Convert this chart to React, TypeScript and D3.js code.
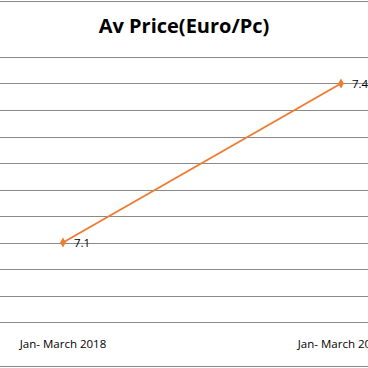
import React from "react";
import * as d3 from "d3";

const categories = ["Jan- March 2018", "Jan- March 2019"];
const values = [7.1, 7.4];
const labels = ["7.1", "7.4"];
const yTicks = [6.95, 7.0, 7.05, 7.1, 7.15, 7.2, 7.25, 7.3, 7.35, 7.4, 7.45];
const title = "Av Price(Euro/Pc)";

const W = 368;
const H = 368;
const FONT = "'Open Sans', 'Noto Sans', sans-serif";

export default function App() {
  const x = d3.scalePoint<string>().domain(categories).range([63, 341]);
  const y = d3.scaleLinear().domain([6.95, 7.45]).range([322, 57]);
  const line = d3
    .line<number>()
    .x((_, i) => x(categories[i]) as number)
    .y((d) => y(d));
  const diamond = d3.symbol().type(d3.symbolDiamond).size(30)();
  return (
    <svg
      width={W}
      height={H}
      style={{ position: "absolute", left: 0, top: 0, background: "#fff" }}
    >
      <rect x={0} y={0} width={W} height={H} fill="#fff" />
      <line x1={0} x2={W} y1={1.5} y2={1.5} stroke="#8a8a8a" strokeWidth={1} />
      <line x1={0} x2={W} y1={366.5} y2={366.5} stroke="#8a8a8a" strokeWidth={1} />
      {yTicks.map((t) => (
        <line
          key={t}
          x1={0}
          x2={W}
          y1={Math.round(y(t)) + 0.5}
          y2={Math.round(y(t)) + 0.5}
          stroke="#8a8a8a"
          strokeWidth={1}
        />
      ))}
      <text
        x={184}
        y={33}
        textAnchor="middle"
        fontFamily={FONT}
        fontWeight="bold"
        fontSize={20}
        fill="#000"
      >
        {title}
      </text>
      <path d={line(values) || ""} fill="none" stroke="#ED7D31" strokeWidth={2} />
      {values.map((v, i) => (
        <path
          key={i}
          d={diamond || ""}
          transform={`translate(${x(categories[i])},${y(v)})`}
          fill="#ED7D31"
        />
      ))}
      {values.map((v, i) => (
        <text
          key={"l" + i}
          x={(x(categories[i]) as number) + 11}
          y={y(v) + 4.5}
          fontFamily={FONT}
          fontSize={11.5}
          fill="#000"
        >
          {labels[i]}
        </text>
      ))}
      {categories.map((c) => (
        <text
          key={c}
          x={x(c)}
          y={348}
          textAnchor="middle"
          fontFamily={FONT}
          fontSize={11.5}
          fill="#000"
        >
          {c}
        </text>
      ))}
    </svg>
  );
}
